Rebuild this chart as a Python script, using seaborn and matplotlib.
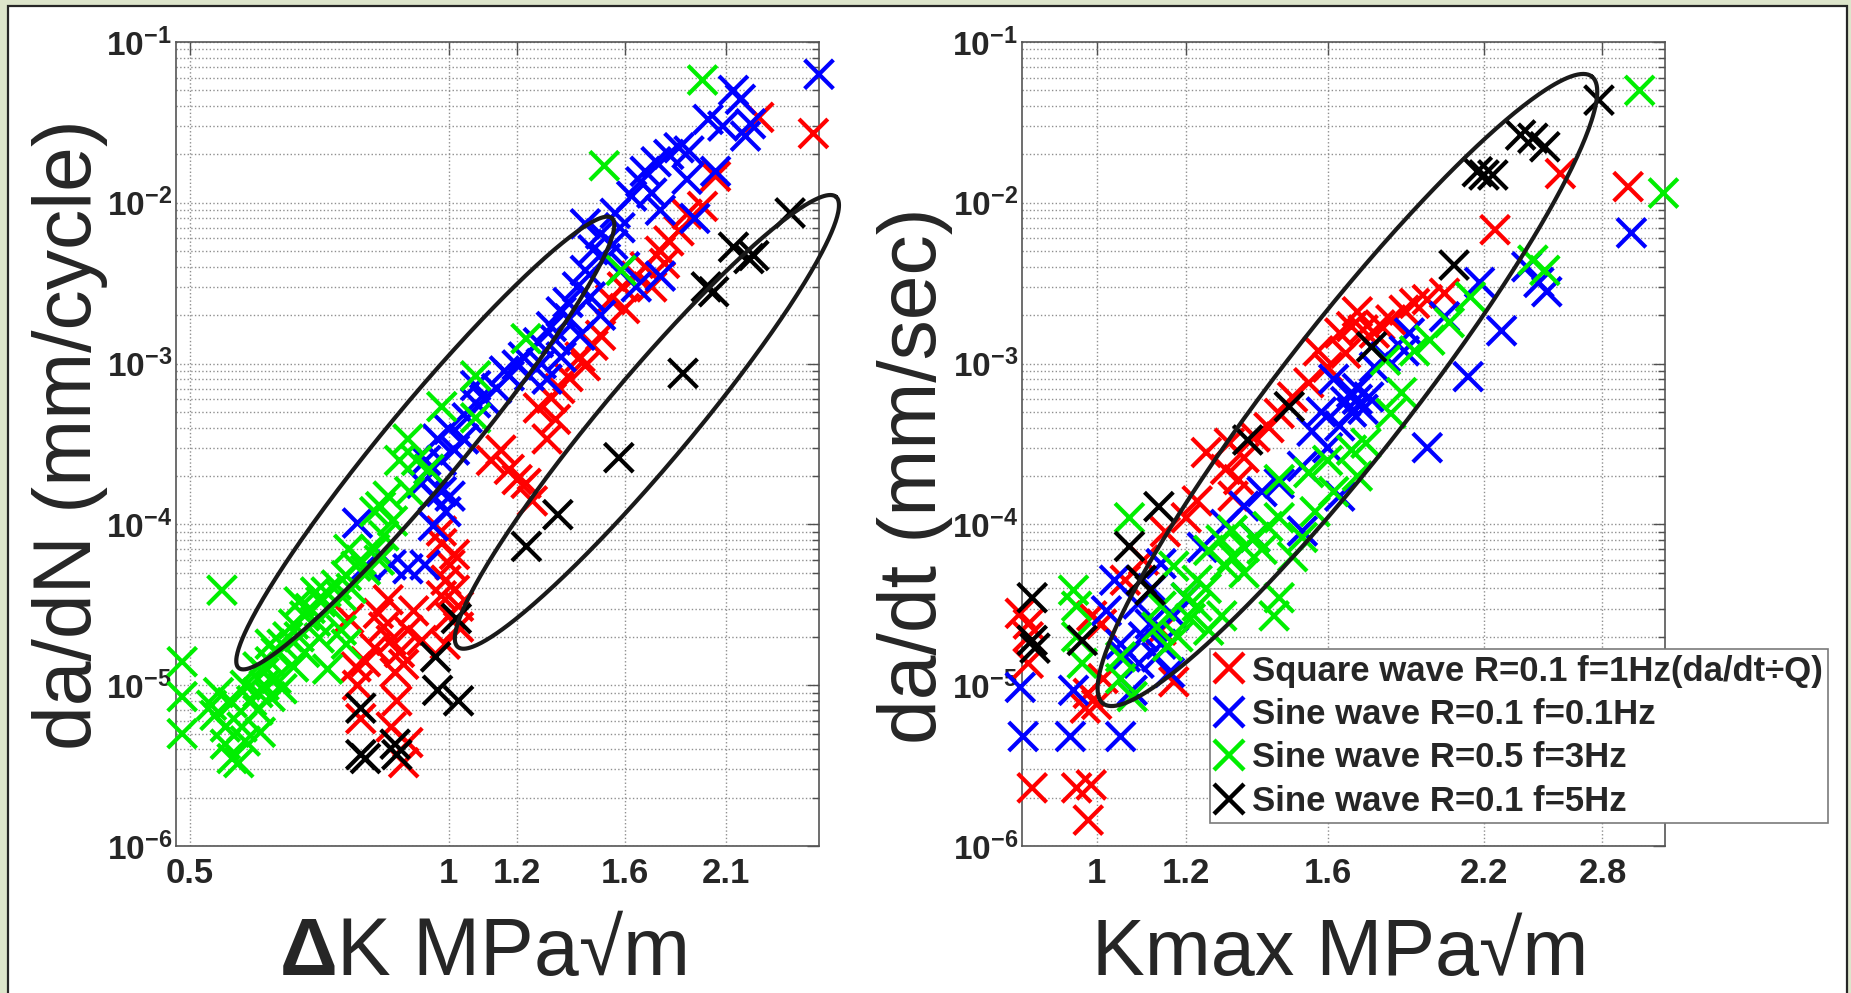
import numpy as np
import pandas as pd
import matplotlib
matplotlib.use('Agg')
import matplotlib.pyplot as plt
import seaborn as sns
from matplotlib import font_manager, ticker
from matplotlib.lines import Line2D
from matplotlib.patches import Rectangle

# series names / colours (legend order)
series = ['Square wave R=0.1 f=1Hz(da/dt÷Q)',
          'Sine wave R=0.1 f=0.1Hz',
          'Sine wave R=0.5 f=3Hz',
          'Sine wave R=0.1 f=5Hz']
colors = ['#ff0000', '#0000ff', '#00ee00', '#000000']

# left panel: (delta K, da/dN)
red_left = [(0.783, 1.0e-5), (0.765, 2.6e-5), (0.828, 2.8e-5), (0.857, 1.9e-5), (0.876, 1.6e-5),
            (0.886, 1.35e-5), (0.866, 1.2e-5), (0.896, 2.2e-5), (0.857, 5.5e-6), (0.886, 3.3e-6),
            (0.896, 4.4e-6), (0.79, 6.2e-6), (0.981, 7.6e-5), (1.015, 6.5e-5), (1.003, 5.6e-5),
            (0.992, 4.5e-5), (1.015, 3.9e-5), (0.98, 3.6e-5), (1.026, 3.1e-5), (1.0, 2.7e-5),
            (1.026, 2.3e-5), (1.12, 2.5e-4), (1.149, 2.9e-4), (1.175, 2.2e-4), (1.2, 1.9e-4),
            (1.229, 1.8e-4), (1.27, 5.3e-4), (1.315, 6.1e-4), (1.345, 7.0e-4), (1.375, 8.3e-4),
            (1.42, 1.1e-3), (1.47, 1.3e-3), (1.5, 1.5e-3), (1.54, 2.5e-3), (1.59, 3.0e-3),
            (1.65, 3.5e-3), (1.69, 4.0e-3), (1.76, 5.0e-3), (1.8, 5.8e-3), (1.85, 6.7e-3),
            (1.89, 8.5e-3), (2.04, 1.46e-2), (2.29, 3.4e-2), (2.65, 2.7e-2), (1.44, 9.7e-4),
            (1.33, 4.5e-4), (1.3, 3.4e-4), (0.84, 2.3e-5), (0.8, 1.4e-5), (0.87, 8.0e-6),
            (1.25, 1.4e-4), (1.6, 2.2e-3), (1.72, 3.0e-3), (0.99, 1.8e-5), (1.78, 4.2e-3),
            (1.97, 9.5e-3), (0.82, 1.7e-5), (0.91, 2.9e-5), (0.85, 3.4e-5), (0.93, 1.9e-5),
            (0.78, 1.3e-5), (0.98, 9.1e-5)]
blue_left = [(0.783, 1.02e-4), (0.8, 5.5e-5), (0.857, 5.6e-5), (0.896, 5.3e-5), (0.938, 5.6e-5),
             (0.959, 9.8e-5), (0.992, 1.2e-4), (1.003, 1.5e-4), (0.959, 1.5e-4), (0.948, 2.2e-4),
             (0.98, 2.5e-4), (1.015, 2.9e-4), (0.97, 3.4e-4), (1.0, 3.9e-4), (1.05, 4.6e-4),
             (1.074, 5.7e-4), (1.136, 7.0e-4), (1.175, 8.4e-4), (1.2, 9.8e-4), (1.24, 8.4e-4),
             (1.27, 1.35e-3), (1.315, 1.7e-3), (1.35, 2.1e-3), (1.375, 2.4e-3), (1.41, 3.0e-3),
             (1.44, 3.8e-3), (1.47, 5.1e-3), (1.5, 6.4e-3), (1.44, 7.4e-3), (1.56, 8.6e-3),
             (1.63, 1.1e-2), (1.67, 1.35e-2), (1.69, 1.57e-2), (1.74, 1.8e-2), (1.8, 2.0e-2),
             (1.72, 1.15e-2), (1.76, 9.0e-3), (1.89, 1.4e-2), (2.0, 3.3e-2), (2.14, 5.0e-2),
             (2.24, 3.1e-2), (2.21, 2.6e-2), (1.93, 8.0e-3), (1.76, 3.5e-3), (1.65, 3.0e-3),
             (1.5, 2.0e-3), (1.42, 1.5e-3), (1.35, 1.1e-3), (1.3, 8.0e-4), (2.69, 6.3e-2),
             (2.04, 1.57e-2), (1.074, 7.3e-4), (1.04, 3.4e-4), (0.98, 1.6e-4), (0.94, 2.5e-4),
             (0.93, 1.8e-4), (1.1, 6.0e-4), (1.16, 9.0e-4), (1.22, 1.1e-3), (1.28, 1.0e-3),
             (1.33, 1.4e-3), (1.38, 1.9e-3), (1.46, 2.6e-3), (1.52, 4.5e-3), (1.55, 5.5e-3),
             (1.58, 7.0e-3), (1.6, 4.0e-3), (1.85, 2.2e-2), (1.9, 2.1e-2), (2.08, 3.0e-2),
             (2.18, 4.4e-2)]
green_left = [(0.49, 1.4e-5), (0.49, 8.5e-6), (0.49, 5.0e-6), (0.545, 3.9e-5), (0.54, 9.0e-6),
              (0.535, 6.5e-6), (0.55, 5.5e-6), (0.55, 4.3e-6), (0.56, 3.5e-6), (0.57, 3.3e-6),
              (0.53, 7.5e-6), (0.56, 7.8e-6), (0.604, 5.1e-6), (0.6, 9.0e-6), (0.61, 1.0e-5),
              (0.62, 8.5e-6), (0.61, 1.2e-5), (0.63, 1.1e-5), (0.62, 1.4e-5), (0.6, 1.3e-5),
              (0.64, 9.5e-6), (0.63, 1.6e-5), (0.64, 1.8e-5), (0.65, 2.0e-5), (0.66, 2.4e-5),
              (0.67, 2.0e-5), (0.68, 2.7e-5), (0.69, 3.0e-5), (0.7, 2.5e-5), (0.71, 3.3e-5),
              (0.72, 3.8e-5), (0.73, 3.0e-5), (0.74, 4.2e-5), (0.75, 3.6e-5), (0.76, 4.8e-5),
              (0.77, 4.0e-5), (0.78, 5.5e-5), (0.79, 6.0e-5), (0.8, 5.2e-5), (0.82, 7.0e-5),
              (0.84, 8.5e-5), (0.86, 1.05e-4), (0.83, 6.0e-5), (0.7, 3.8e-5), (0.67, 3.3e-5),
              (0.707, 1.97e-5), (0.723, 1.26e-5), (0.68, 1.6e-5), (0.66, 1.3e-5), (0.75, 2.2e-5),
              (0.76, 1.8e-5), (0.833, 1.29e-4), (0.82, 1.2e-4), (0.765, 7.0e-5), (0.896, 3.4e-4),
              (0.917, 2.5e-4), (0.948, 2.2e-4), (0.876, 2.5e-4), (0.981, 5.4e-4), (1.074, 4.6e-4),
              (1.074, 8.4e-4), (1.229, 1.43e-3), (1.585, 3.8e-3), (1.515, 1.7e-2), (1.97, 5.8e-2),
              (0.9, 1.6e-4), (0.85, 1.5e-4), (0.62, 1.8e-5), (0.58, 1.0e-5), (0.59, 8.0e-6),
              (0.6, 7.0e-6), (0.575, 5.5e-6), (0.58, 4.5e-6)]
black_left = [(2.49, 8.65e-3), (2.26, 4.7e-3), (2.14, 5.3e-3), (2.23, 4.5e-3), (1.99, 3.0e-3),
              (2.03, 2.8e-3), (1.87, 8.7e-4), (1.575, 2.6e-4), (1.338, 1.15e-4), (1.23, 7.3e-5),
              (1.02, 2.6e-5), (0.965, 1.5e-5), (0.97, 9.3e-6), (1.026, 8.0e-6), (0.79, 7.2e-6),
              (0.79, 3.7e-6), (0.8, 3.5e-6), (0.866, 4.3e-6), (0.87, 3.7e-6)]

# right panel: (Kmax, da/dt)
red_right = [(0.856, 2.8e-5), (0.87, 2.4e-5), (0.87, 2.0e-5), (0.87, 1.37e-5), (0.877, 2.3e-6),
             (0.96, 2.3e-6), (0.989, 2.4e-6), (0.983, 1.45e-6), (0.977, 7.2e-6), (1.0, 7.6e-6),
             (0.983, 8.9e-6), (1.013, 1.1e-5), (1.01, 2.4e-5), (0.99, 2.7e-5), (1.14, 2.2e-5),
             (1.17, 1.05e-5), (1.227, 1.4e-4), (1.32, 1.5e-4), (1.1, 6.0e-5), (1.15, 9.0e-5),
             (1.2, 1.1e-4), (1.3, 2.2e-4), (1.35, 2.6e-4), (1.06, 4.5e-5), (1.335, 1.9e-4),
             (1.38, 3.5e-4), (1.42, 4.0e-4), (1.45, 4.9e-4), (1.49, 6.2e-4), (1.54, 7.6e-4),
             (1.6, 9.5e-4), (1.66, 1.16e-3), (1.64, 1.55e-3), (1.76, 1.55e-3), (1.68, 1.7e-3),
             (1.72, 1.62e-3), (1.78, 1.74e-3), (1.82, 1.87e-3), (1.87, 2.15e-3), (1.91, 2.37e-3),
             (1.96, 2.5e-3), (2.03, 2.74e-3), (2.25, 6.8e-3), (2.57, 1.52e-2), (2.95, 1.26e-2),
             (1.25, 2.8e-4), (1.31, 3.2e-4), (1.57, 1.2e-3), (1.7, 2.1e-3)]
blue_right = [(0.856, 9.7e-6), (0.861, 4.8e-6), (0.948, 4.8e-6), (0.954, 9.3e-6), (1.05, 4.8e-6),
              (1.037, 4.5e-5), (1.088, 3.2e-5), (1.115, 2.4e-5), (1.14, 1.8e-5), (1.13, 1.5e-5),
              (1.17, 2.7e-5), (1.2, 3.5e-5), (1.09, 1.37e-5), (1.075, 9.3e-6), (1.05, 1.8e-5),
              (1.14, 5.7e-5), (1.24, 7.2e-5), (1.38, 8.3e-5), (1.52, 9.1e-5), (1.64, 1.5e-4),
              (1.45, 1.8e-4), (1.52, 2.3e-4), (1.6, 3.0e-4), (1.64, 4.1e-4), (1.72, 5.2e-4),
              (1.68, 6.6e-4), (1.62, 8.0e-4), (1.76, 9.5e-4), (1.87, 1.2e-3), (1.89, 1.55e-3),
              (2.03, 1.96e-3), (1.96, 3.0e-4), (2.13, 8.3e-4), (2.28, 1.6e-3), (2.18, 3.2e-3),
              (2.4, 4.0e-3), (2.46, 3.2e-3), (2.5, 2.8e-3), (2.97, 6.5e-3), (1.12, 4.0e-5),
              (1.1, 2.0e-5), (1.06, 1.5e-5), (1.02, 2.9e-5), (1.16, 1.2e-5), (1.3, 1.0e-4),
              (1.35, 1.3e-4), (1.4, 1.6e-4), (1.55, 3.8e-4), (1.58, 5.0e-4), (1.7, 7.0e-4),
              (1.8, 1.1e-3), (1.66, 5.8e-4), (1.7, 6.0e-4), (1.74, 6.2e-4), (1.68, 5.0e-4)]
green_right = [(3.02, 5.0e-2), (3.17, 1.15e-2), (2.43, 4.4e-3), (2.49, 3.8e-3), (2.14, 2.6e-3),
               (1.97, 1.4e-3), (1.91, 1.2e-3), (1.86, 6.6e-4), (1.82, 4.9e-4), (1.8, 1.05e-3),
               (1.73, 3.2e-4), (1.68, 2.9e-4), (1.6, 2.5e-4), (1.54, 2.1e-4), (1.45, 1.9e-4),
               (1.56, 1.2e-4), (1.52, 8.3e-5), (1.49, 6.3e-5), (1.45, 1.1e-4), (1.45, 3.5e-5),
               (1.435, 2.7e-5), (1.417, 9.7e-5), (1.38, 8.3e-5), (1.35, 7.2e-5), (1.318, 9.2e-5),
               (1.318, 6.3e-5), (1.35, 5.0e-5), (1.288, 8.0e-5), (1.256, 6.9e-5), (1.227, 4.5e-5),
               (1.227, 3.1e-5), (1.2, 3.5e-5), (1.17, 5.5e-5), (1.256, 2.2e-5), (1.18, 2.0e-5),
               (1.155, 1.75e-5), (1.29, 2.7e-5), (1.14, 3.1e-5), (1.13, 2.3e-5), (1.069, 1.1e-4),
               (1.05, 1.5e-5), (1.05, 1.1e-5), (1.075, 8.5e-6), (0.954, 3.9e-5), (0.96, 3.1e-5),
               (0.96, 2.0e-5), (0.971, 1.37e-5), (1.25, 4.0e-5), (1.3, 5.5e-5), (1.4, 7.0e-5),
               (1.21, 2.6e-5), (1.62, 1.6e-4), (1.7, 2.0e-4), (2.05, 1.8e-3)]
black_right = [(2.78, 4.35e-2), (2.43, 2.52e-2), (2.49, 2.23e-2), (2.37, 2.64e-2), (2.2, 1.49e-2),
               (2.24, 1.49e-2), (2.17, 1.56e-2), (2.07, 4.1e-3), (1.75, 1.27e-3), (1.48, 5.4e-4),
               (1.36, 3.35e-4), (1.135, 1.29e-4), (1.069, 7.3e-5), (1.115, 3.9e-5), (1.095, 4.5e-5),
               (0.971, 1.9e-5), (0.877, 3.5e-5), (0.877, 1.9e-5), (0.882, 1.7e-5)]

# highlight ellipses: two tip points (data) + width/length ratio
ellipses_left = [((0.570, 1.28e-5), (1.546, 8.04e-3), 0.135),
                 ((1.024, 1.73e-5), (2.815, 1.09e-2), 0.15)]
ellipses_right = [((1.013, 7.7e-6), (2.74, 6.1e-2), 0.165)]

yticks = [1e-6, 1e-5, 1e-4, 1e-3, 1e-2, 1e-1]
xticks_left = [0.5, 1, 1.2, 1.6, 2.1]
xticks_right = [1, 1.2, 1.6, 2.2, 2.8]


def to_frame(groups):
    parts = []
    for name, pts in zip(series, groups):
        d = pd.DataFrame(pts, columns=['K', 'rate'])
        d['series'] = name
        parts.append(d)
    return pd.concat(parts, ignore_index=True)


df_left = to_frame([red_left, blue_left, green_left, black_left])
df_right = to_frame([red_right, blue_right, green_right, black_right])

sns.set_theme(style='white')
names = {f.name for f in font_manager.fontManager.ttflist}
has_narrow = 'Liberation Sans Narrow' in names
narrow = 'Liberation Sans Narrow' if has_narrow else 'Liberation Sans'
xtick_fs = 28 if has_narrow else 25
ytick_fs = 27 if has_narrow else 24
leg_fs = 29 if has_narrow else 25
plt.rcParams['font.family'] = ['Liberation Sans', 'DejaVu Sans']
plt.rcParams['mathtext.fontset'] = 'custom'
plt.rcParams['mathtext.rm'] = 'Liberation Sans'
plt.rcParams['mathtext.bf'] = narrow + ':bold'
plt.rcParams['mathtext.sf'] = 'Liberation Sans:bold'

W, H = 1851, 993
fig = plt.figure(figsize=(W / 100, H / 100), dpi=100, facecolor='#dde5cb')
fig.patches.append(Rectangle((8 / W, -0.05), (1847 - 8) / W, 1.05 - 6 / H,
                             transform=fig.transFigure, facecolor='white',
                             edgecolor='#262626', lw=1.6, zorder=-10))

ax1 = fig.add_axes([176 / W, 0.148, 643 / W, 0.8097])
ax2 = fig.add_axes([1022 / W, 0.148, 643 / W, 0.8097])
palette = dict(zip(series, colors))


def draw_ellipse(ax, tip_a, tip_b, ratio):
    p = ax.transData.transform([tip_a, tip_b])
    c = p.mean(axis=0)
    d = p[1] - p[0]
    a = np.hypot(*d) / 2
    b = a * ratio
    ang = np.arctan2(d[1], d[0])
    t = np.linspace(0, 2 * np.pi, 400)
    ex = c[0] + a * np.cos(t) * np.cos(ang) - b * np.sin(t) * np.sin(ang)
    ey = c[1] + a * np.cos(t) * np.sin(ang) + b * np.sin(t) * np.cos(ang)
    pts = ax.transData.inverted().transform(np.column_stack([ex, ey]))
    ax.plot(pts[:, 0], pts[:, 1], color='k', lw=3, clip_on=False, zorder=5)


panels = [(ax1, df_left, (0.482, 2.69), xticks_left, ellipses_left),
          (ax2, df_right, (0.859, 3.18), xticks_right, ellipses_right)]
for ax, df, xlim, xt, ells in panels:
    ax.set_xscale('log')
    ax.set_yscale('log')
    sns.scatterplot(data=df, x='K', y='rate', hue='series', palette=palette,
                    marker='x', s=430, linewidth=3, legend=False, ax=ax,
                    clip_on=False, zorder=4)
    ax.set_xlim(*xlim)
    ax.set_ylim(1e-6, 1e-1)
    ax.xaxis.set_major_locator(ticker.FixedLocator(xt))
    ax.xaxis.set_minor_locator(ticker.NullLocator())
    ax.set_xticklabels([f'{v:g}' for v in xt], fontfamily=narrow,
                       fontweight='bold', fontsize=xtick_fs)
    ax.yaxis.set_major_locator(ticker.FixedLocator(yticks))
    ax.yaxis.set_minor_locator(ticker.LogLocator(base=10, subs=np.arange(2, 10)))
    ax.yaxis.set_minor_formatter(ticker.NullFormatter())
    ax.set_yticklabels([r'$\mathbf{10^{%d}}$' % int(np.log10(v)) for v in yticks],
                       fontsize=ytick_fs)
    ax.grid(True, which='major', axis='both', ls=':', lw=1.0, color='#8f8f8f')
    ax.grid(True, which='minor', axis='y', ls=':', lw=1.0, color='#8f8f8f')
    ax.tick_params(which='both', direction='in', top=True, right=True,
                   color='#505050', width=1)
    ax.tick_params(which='major', length=9)
    ax.tick_params(which='minor', length=5)
    ax.tick_params(axis='x', pad=8)
    ax.tick_params(axis='y', pad=3)
    for sp in ax.spines.values():
        sp.set_color('#555555')
        sp.set_linewidth(1.2)
    ax.set_facecolor('white')
    for tip_a, tip_b, ratio in ells:
        draw_ellipse(ax, tip_a, tip_b, ratio)

ax1.set_ylabel('da/dN (mm/cycle)', fontsize=58, va='baseline')
ax1.yaxis.set_label_coords(-0.132, 0.512)
ax1.set_xlabel(r'$\mathsf{\Delta}$K MPa√m', fontsize=58, va='baseline')
ax1.xaxis.set_label_coords(0.477, -0.161)

ax2.set_ylabel('da/dt (mm/sec)', fontsize=58, va='baseline')
ax2.yaxis.set_label_coords(-0.134, 0.461)
ax2.set_xlabel('Kmax MPa√m', fontsize=57, va='baseline')
ax2.xaxis.set_label_coords(0.495, -0.161)

handles = [Line2D([], [], ls='none', marker='x', color=c, markersize=21, mew=3.2)
           for c in colors]
leg = ax2.legend(handles, series, loc='lower left',
                 bbox_to_anchor=(1210 / W, 1 - 823 / H), bbox_transform=fig.transFigure,
                 prop=dict(family=narrow, weight='bold', size=leg_fs),
                 frameon=True, fancybox=False, framealpha=1, edgecolor='#7a7a7a',
                 borderpad=0.15, labelspacing=0.3, handlelength=0.8,
                 handletextpad=0.25, borderaxespad=0)
leg.get_frame().set_linewidth(1.2)
leg.set_zorder(10)

fig.savefig('out.png', dpi=100, facecolor=fig.get_facecolor())
